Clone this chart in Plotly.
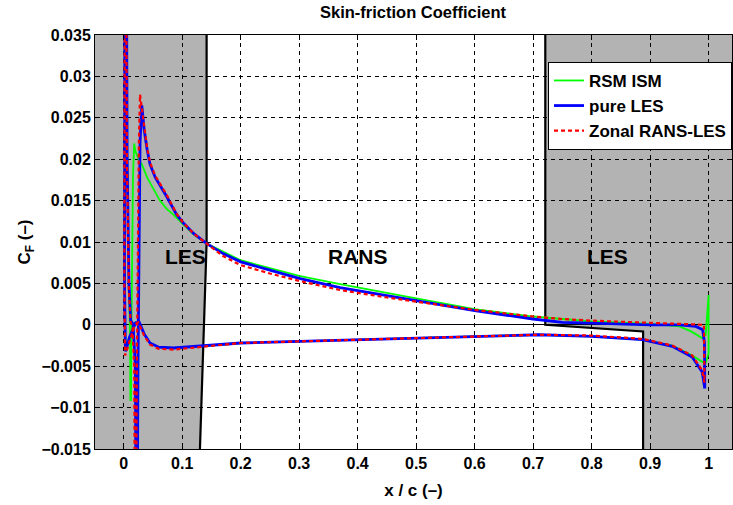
import plotly.graph_objects as go

# ---------------- data ----------------
# RSM ISM (green)
rsm_lo_x = [0.0035, 0.005, 0.010, 0.016, 0.020, 0.026, 0.030, 0.035, 0.045, 0.06, 0.085, 0.13, 0.2, 0.3, 0.37, 0.5, 0.6, 0.71, 0.8, 0.887, 0.938, 0.972, 0.99, 0.995, 1.0]
rsm_lo_y = [-0.0032, -0.0028, -0.0015, -0.0004, 0.0003, 0.0004, -0.0003, -0.0011, -0.0022, -0.0027, -0.0028, -0.0026, -0.0022, -0.0020, -0.0018, -0.0016, -0.0014, -0.0012, -0.0014, -0.0018, -0.0025, -0.0037, -0.0045, -0.0046, -0.0034]
rsm_le_x = [0.0015, 0.002, 0.0045, 0.006, 0.009, 0.011, 0.0115, 0.0125, 0.013, 0.0145, 0.016, 0.018]
rsm_le_y = [0.005, 0.040, 0.040, 0.020, 0.005, -0.002, -0.0091, -0.0091, -0.002, 0.010, 0.018, 0.0219]
rsm_up_x = [0.020, 0.026, 0.031, 0.04, 0.05, 0.062, 0.0735, 0.085, 0.102, 0.12, 0.142, 0.2, 0.3, 0.37, 0.5, 0.6, 0.7, 0.8, 0.9, 0.95, 0.97, 0.989, 0.995, 0.998, 1.0]
rsm_up_y = [0.0210, 0.0199, 0.0194, 0.0178, 0.0165, 0.0150, 0.0140, 0.0133, 0.0121, 0.0109, 0.0098, 0.0078, 0.0059, 0.0049, 0.0032, 0.0019, 0.0010, 0.0004, 0.0001, -0.0002, -0.0008, -0.0016, -0.0012, 0.0015, 0.0036]

# pure LES (blue)
les_lo_x = [0.003, 0.005, 0.010, 0.016, 0.020, 0.026, 0.030, 0.035, 0.045, 0.06, 0.085, 0.13, 0.2, 0.3, 0.37, 0.5, 0.6, 0.71, 0.8, 0.887, 0.938, 0.972, 0.989, 0.9935]
les_lo_y = [-0.0032, -0.0028, -0.0015, -0.0005, 0.0002, 0.0004, -0.0003, -0.0011, -0.0022, -0.0027, -0.0028, -0.0026, -0.0022, -0.0020, -0.0018, -0.0016, -0.0014, -0.0012, -0.0014, -0.0018, -0.0026, -0.0039, -0.0057, -0.0077]
les_le_x = [0.0015, 0.002, 0.005, 0.006, 0.009, 0.012, 0.016, 0.020, 0.021, 0.0235, 0.0245, 0.026, 0.028]
les_le_y = [0.005, 0.040, 0.040, 0.020, 0.005, 0.0005, 0.0001, -0.005, -0.020, -0.020, -0.005, 0.010, 0.022]
les_up_x = [0.031, 0.035, 0.04, 0.045, 0.054, 0.0735, 0.0906, 0.102, 0.12, 0.142, 0.17, 0.2, 0.25, 0.3, 0.37, 0.45, 0.5, 0.6, 0.7, 0.75, 0.8, 0.9, 0.95, 0.978, 0.99, 0.993]
les_up_y = [0.0265, 0.0236, 0.0212, 0.0194, 0.0178, 0.0155, 0.0133, 0.0123, 0.0110, 0.0098, 0.0086, 0.0076, 0.0066, 0.0056, 0.0045, 0.0035, 0.0029, 0.0017, 0.0007, 0.0003, 0.0002, 0.0, 0.0, -0.0002, -0.0006, -0.0022]

# Zonal RANS-LES (red, dashed)
zon_lo_x = [0.0025, 0.005, 0.010, 0.015, 0.019, 0.025, 0.030, 0.035, 0.045, 0.06, 0.085, 0.13, 0.2, 0.3, 0.37, 0.5, 0.6, 0.71, 0.8, 0.887, 0.938, 0.972, 0.989, 0.993]
zon_lo_y = [-0.0037, -0.0032, -0.0020, -0.0008, 0.0, 0.0003, -0.0004, -0.0013, -0.0024, -0.0029, -0.0030, -0.0027, -0.0022, -0.0020, -0.0018, -0.0016, -0.0014, -0.0012, -0.0013, -0.0017, -0.0025, -0.0037, -0.0055, -0.0070]
zon_le_x = [0.0012, 0.0018, 0.0045, 0.0055, 0.009, 0.012, 0.015, 0.018, 0.019, 0.0215, 0.0225, 0.024, 0.026]
zon_le_y = [0.005, 0.040, 0.040, 0.020, 0.004, 0.0003, -0.0003, -0.005, -0.020, -0.020, -0.005, 0.010, 0.022]
zon_up_x = [0.028, 0.031, 0.035, 0.04, 0.045, 0.054, 0.0735, 0.0906, 0.102, 0.12, 0.142, 0.17, 0.2, 0.25, 0.3, 0.37, 0.45, 0.5, 0.6, 0.7, 0.75, 0.8, 0.9, 0.95, 0.978, 0.992]
zon_up_y = [0.0278, 0.0262, 0.0238, 0.0214, 0.0196, 0.0180, 0.0157, 0.0134, 0.0123, 0.0110, 0.0098, 0.0083, 0.0072, 0.0062, 0.0053, 0.0042, 0.0033, 0.0028, 0.0018, 0.0010, 0.0007, 0.0005, 0.0002, 0.0001, 0.0, 0.0]

# zone boundaries (LES | RANS | LES)
left_zone_x = [0.1418, 0.1418, 0.1304]
left_zone_y = [0.035, 0.0099, -0.015]
right_zone_x = [0.7208, 0.7208, 0.888, 0.888]
right_zone_y = [0.035, 0.0, -0.0008, -0.015]

zone_labels = ["LES", "RANS", "LES"]
zone_label_x = [0.105, 0.40, 0.827]
zone_label_y = [0.0082, 0.0082, 0.0082]

x_ticks = [0, 0.1, 0.2, 0.3, 0.4, 0.5, 0.6, 0.7, 0.8, 0.9, 1.0]
x_ticklabels = ["0", "0.1", "0.2", "0.3", "0.4", "0.5", "0.6", "0.7", "0.8", "0.9", "1"]
y_ticks = [-0.015, -0.01, -0.005, 0, 0.005, 0.01, 0.015, 0.02, 0.025, 0.03, 0.035]
y_ticklabels = ["\u22120.015", "\u22120.01", "\u22120.005", "0", "0.005", "0.01", "0.015", "0.02", "0.025", "0.03", "0.035"]

# ---------------- figure ----------------
FONT = "Liberation Sans, Arial, Helvetica, sans-serif"


def loop(lo_x, lo_y, le_x, le_y, up_x, up_y):
    xs = lo_x[::-1] + le_x + up_x + [lo_x[-1]]
    ys = lo_y[::-1] + le_y + up_y + [lo_y[-1]]
    return xs, ys


fig = go.Figure()

gx, gy = loop(rsm_lo_x, rsm_lo_y, rsm_le_x, rsm_le_y, rsm_up_x, rsm_up_y)
fig.add_trace(go.Scatter(x=gx, y=gy, mode="lines", name="RSM ISM",
                         line=dict(color="#00ff00", width=1.8)))
bx, by = loop(les_lo_x, les_lo_y, les_le_x, les_le_y, les_up_x, les_up_y)
fig.add_trace(go.Scatter(x=bx, y=by, mode="lines", name="pure LES",
                         line=dict(color="#0000ff", width=2.8)))
rx, ry = loop(zon_lo_x, zon_lo_y, zon_le_x, zon_le_y, zon_up_x, zon_up_y)
fig.add_trace(go.Scatter(x=rx, y=ry, mode="lines", name="Zonal RANS-LES",
                         line=dict(color="#ff0000", width=2.2, dash="4px,3px")))

# white RANS region over gray background
poly_x = left_zone_x + right_zone_x[::-1]
poly_y = left_zone_y + right_zone_y[::-1]
path = "M " + " L ".join(f"{a},{b}" for a, b in zip(poly_x, poly_y)) + " Z"
fig.add_shape(type="path", path=path, xref="x", yref="y",
              fillcolor="white", line=dict(width=0), layer="below")
for zx, zy in [(left_zone_x, left_zone_y), (right_zone_x, right_zone_y)]:
    p = "M " + " L ".join(f"{a},{b}" for a, b in zip(zx, zy))
    fig.add_shape(type="path", path=p, xref="x", yref="y",
                  line=dict(color="black", width=2.2), layer="between")

for t, ax_, ay_ in zip(zone_labels, zone_label_x, zone_label_y):
    fig.add_annotation(x=ax_, y=ay_, text=t, showarrow=False,
                       font=dict(family=FONT, size=21, color="black", weight="bold"))

fig.update_layout(
    width=733, height=505,
    margin=dict(l=95, r=1, t=35, b=56),
    paper_bgcolor="white",
    plot_bgcolor="#b3b3b3",
    font=dict(family=FONT, size=16, color="black", weight="bold"),
    title=dict(text="Skin-friction Coefficient", x=0.5635, xanchor="center",
               y=0.975, yanchor="middle",
               font=dict(family=FONT, size=16.5, weight="bold")),
    showlegend=True,
    legend=dict(x=1.0, xanchor="right", y=0.935, yanchor="top",
                bgcolor="white", bordercolor="black", borderwidth=1,
                font=dict(family=FONT, size=17, weight="bold"),
                itemwidth=30, tracegroupgap=0),
)

fig.update_xaxes(
    range=[-0.049, 1.04], tickvals=x_ticks, ticktext=x_ticklabels,
    showgrid=True, gridcolor="black", griddash="4px,4px", gridwidth=0.8,
    zeroline=False, showline=True, linecolor="black", linewidth=1,
    mirror="allticks", ticks="inside", ticklen=5, tickcolor="black",
    title=dict(text="x / c (\u2013)", font=dict(family=FONT, size=17, weight="bold"), standoff=12),
    tickfont=dict(family=FONT, size=16, weight="bold"),
)
fig.update_yaxes(
    range=[-0.015, 0.035], tickvals=y_ticks, ticktext=y_ticklabels,
    showgrid=True, gridcolor="black", griddash="4px,4px", gridwidth=0.8,
    zeroline=True, zerolinecolor="black", zerolinewidth=1,
    showline=True, linecolor="black", linewidth=1,
    mirror="allticks", ticks="inside", ticklen=5, tickcolor="black",
    title=dict(text="C<sub>F</sub> (\u2013)", font=dict(family=FONT, size=17, weight="bold"), standoff=6),
    tickfont=dict(family=FONT, size=16, weight="bold"),
)

fig.write_html("out.html")
